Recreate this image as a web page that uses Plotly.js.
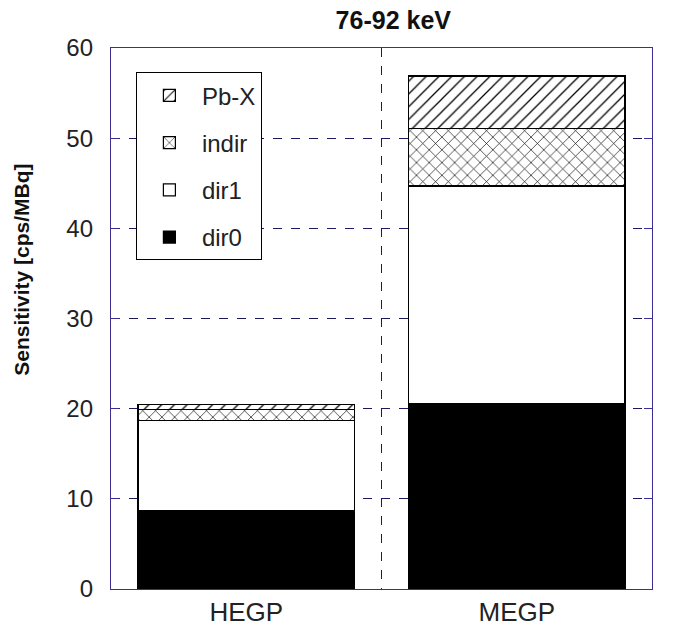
<!DOCTYPE html>
<html>
<head>
<meta charset="utf-8">
<script src="https://cdn.plot.ly/plotly-3.0.1.min.js"></script>
<style>
  body { margin: 0; background: #fff; }
  #chart { width: 684px; height: 633px; }
</style>
</head>
<body>
<div id="chart"></div>
<script>
// detector collimators
let categories = ["HEGP", "MEGP"];
let xpos = [0, 1];

// sensitivity components, cps/MBq
let dir0 = [8.7, 20.6];
let dir1 = [10.0, 24.1];
let indir = [1.2, 6.4];
let pbx = [0.6, 5.8];

let yticks = [0, 10, 20, 30, 40, 50, 60];

let axisColor = "#3b2f96";
let gridColor = "#1a1a5e";
let barLine = { color: "#000", width: 1.2 };

function makeTrace(name, vals, fill, shape, rank) {
    return {
        type: "bar",
        name: name,
        legendgroup: name,
        legendrank: rank,
        x: xpos,
        y: vals,
        width: 0.8,
        marker: {
            color: fill,
            line: barLine,
            pattern: shape ? { shape: shape, fgcolor: "#000", bgcolor: "#fff", size: 9, solidity: 0.14 } : undefined
        },
        hoverinfo: "y+name"
    };
}

let traces = [
    makeTrace("dir0", dir0, "#000", null, 4),
    makeTrace("dir1", dir1, "#fff", null, 3),
    makeTrace("indir", indir, "#fff", "x", 2),
    makeTrace("Pb-X", pbx, "#fff", "/", 1)
];

let layout = {
    width: 684,
    height: 633,
    margin: { l: 111, r: 32, t: 48, b: 44 },
    paper_bgcolor: "#fff",
    plot_bgcolor: "#fff",
    barmode: "stack",
    font: { family: "Arial, Liberation Sans, sans-serif", color: "#222" },
    title: {
        text: "<b>76-92 keV</b>",
        x: 0.575, xanchor: "center",
        y: 0.968, yanchor: "middle",
        font: { size: 25, color: "#111" }
    },
    xaxis: {
        range: [-0.5, 1.5],
        tickvals: xpos,
        ticktext: categories,
        ticks: "",
        showgrid: false,
        zeroline: false,
        showline: true,
        linecolor: axisColor,
        linewidth: 1.3,
        mirror: true,
        tickfont: { size: 26, color: "#222" },
        minor: {
            tick0: 0.5,
            dtick: 1,
            showgrid: true,
            gridcolor: gridColor,
            griddash: "dash",
            gridwidth: 1,
            ticks: ""
        }
    },
    yaxis: {
        range: [0, 60],
        tickvals: yticks,
        ticks: "inside",
        ticklen: 8,
        tickcolor: axisColor,
        ticklabelstandoff: 12,
        showgrid: true,
        gridcolor: gridColor,
        griddash: "dash",
        gridwidth: 1,
        zeroline: false,
        showline: true,
        linecolor: axisColor,
        linewidth: 1.3,
        mirror: "ticks",
        tickfont: { size: 24, color: "#222" }
    },
    annotations: [{
        text: "<b>Sensitivity [cps/MBq]</b>",
        xref: "paper", yref: "paper",
        x: 0, xshift: -89, xanchor: "center",
        y: 0.59, yanchor: "middle",
        textangle: -90,
        showarrow: false,
        font: { size: 21, color: "#111" }
    }],
    legend: {
        x: 0.046, y: 0.955,
        xanchor: "left", yanchor: "top",
        bgcolor: "#fff",
        bordercolor: "#000",
        borderwidth: 1,
        traceorder: "grouped",
        tracegroupgap: 13,
        itemwidth: 55,
        font: { size: 24, color: "#222" }
    }
};

Plotly.newPlot("chart", traces, layout, { displayModeBar: false });
</script>
</body>
</html>
